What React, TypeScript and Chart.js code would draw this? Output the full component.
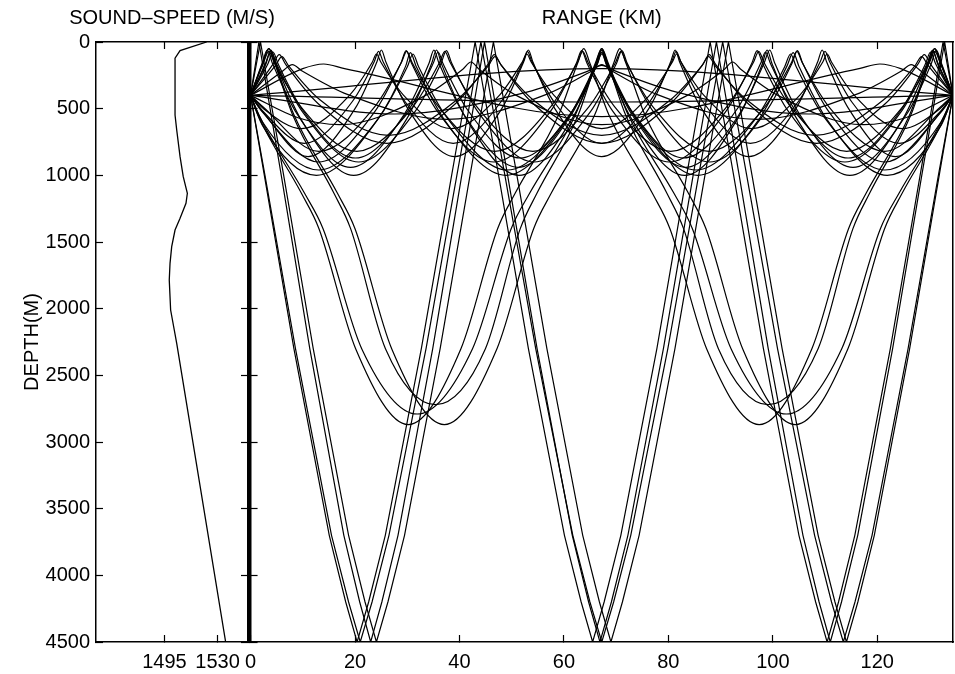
import React, { useEffect, useRef } from 'react';
import { Chart, registerables } from 'chart.js';

Chart.register(...registerables);

const FONT = "'Liberation Sans', Arial, Helvetica, sans-serif";

// ---- axis ticks ----
const depthTicks = [0, 500, 1000, 1500, 2000, 2500, 3000, 3500, 4000, 4500];
const speedTicks = [1495, 1530];
const rangeTicks = [0, 20, 40, 60, 80, 100, 120];

// ---- sound speed profile ----
const soundSpeed = [1522.8, 1505.3, 1502.0, 1502.0, 1503.1, 1505.3, 1507.4, 1510.1, 1509.2, 1505.3, 1502.0, 1499.8, 1498.7, 1498.2, 1499.1, 1501.5, 1503.1, 1535.3];
const soundDepth = [0, 65, 122, 548, 660, 860, 1010, 1135, 1210, 1322, 1410, 1535, 1660, 1785, 2010, 2160, 2260, 4500];

// ---- rays [range km, depth m] ----
// upper-duct rays
const rayA = [[0,400],[2.95,163],[3.9,60],[4.85,163],[9.6,577],[19.75,1000],[29.9,577],[34.65,163],[35.6,60],[36.55,163],[41.3,577],[51.4,1000],[61.55,577],[66.3,163],[67.25,60],[68.2,163],[72.95,577],[83.1,1000],[93.25,577],[98.0,163],[98.9,60],[99.85,163],[104.6,577],[114.75,1000],[124.9,577],[129.65,163],[130.6,60],[131.55,163],[134.5,400]];
const rayA2 = [[0,400],[2.24,157],[3.2,60],[4.16,157],[8.96,544],[19.15,940],[29.39,544],[34.19,157],[35.1,60],[36.06,157],[40.86,544],[51.2,940],[61.44,544],[66.24,157],[67.25,60],[68.21,157],[73.01,544],[83.3,940],[93.54,544],[98.34,157],[99.4,60],[100.36,157],[105.16,544],[115.35,940],[125.59,544],[130.39,157],[131.3,60],[132.26,157],[134.5,400]];
const rayA3 = [[0,400],[3.35,162],[4.3,75],[5.25,162],[10.0,512],[20.1,870],[30.2,512],[34.95,162],[35.9,75],[36.85,162],[41.6,512],[51.6,870],[61.7,512],[66.45,162],[67.25,75],[68.05,162],[72.9,512],[82.9,870],[93.0,512],[97.65,162],[98.6,75],[99.55,162],[104.3,512],[114.4,870],[124.5,512],[129.25,162],[130.2,75],[131.15,162],[134.5,400]];
const rayB = [[0,400],[2.5,525],[10.3,760],[19.42,450],[23.7,146],[24.5,70],[25.36,146],[29.63,450],[38.8,760],[47.92,450],[52.2,146],[53.0,70],[53.86,146],[58.13,450],[67.25,760],[76.37,450],[80.65,146],[81.5,70],[82.36,146],[86.63,450],[95.7,760],[104.82,450],[109.1,146],[110.0,70],[110.86,146],[115.13,450],[124.2,760],[132.0,525],[134.5,400]];
const rayB2 = [[0,400],[2.2,516],[11.0,860],[20.0,500],[24.2,148],[25.05,60],[25.89,148],[30.11,500],[39.1,860],[48.1,500],[52.3,148],[53.2,60],[54.04,148],[58.26,500],[67.25,860],[76.25,500],[80.45,148],[81.3,60],[82.14,148],[86.36,500],[95.4,860],[104.4,500],[108.6,148],[109.45,60],[110.29,148],[114.51,500],[123.5,860],[132.3,516],[134.5,400]];
const rayB3 = [[0,400],[2.5,500],[9.8,650],[18.98,398],[23.3,152],[24.1,90],[24.96,152],[29.27,398],[38.5,650],[47.68,398],[52.0,152],[52.9,90],[53.76,152],[58.07,398],[67.25,650],[76.43,398],[80.74,152],[81.6,90],[82.46,152],[86.77,398],[96.0,650],[105.18,398],[109.54,152],[110.4,90],[111.26,152],[115.57,398],[124.7,650],[132.0,500],[134.5,400]];
const rayC = [[0,400],[2.9,157],[3.9,65],[4.9,157],[9.95,524],[20.7,900],[31.45,524],[36.5,157],[37.5,65],[38.5,157],[43.55,524],[54.3,900],[65.05,524],[70.1,157],[71.1,65],[72.1,157],[77.15,524],[87.9,900],[98.65,524],[103.7,157],[104.7,65],[105.7,157],[110.75,524],[121.5,900],[132.25,524],[134.5,400]];
const rayCm = [[0,400],[2.25,524],[13.0,900],[23.75,524],[28.8,157],[29.8,65],[30.8,157],[35.85,524],[46.6,900],[57.35,524],[62.4,157],[63.4,65],[64.4,157],[69.45,524],[80.2,900],[90.95,524],[96.0,157],[97.0,65],[98.0,157],[103.05,524],[113.8,900],[124.55,524],[129.6,157],[130.6,65],[131.6,157],[134.5,400]];
const rayC2 = [[0,400],[2.5,152],[3.5,70],[4.5,152],[9.57,482],[20.35,820],[31.15,482],[36.2,152],[37.2,70],[38.2,152],[43.27,482],[54.05,820],[64.85,482],[69.9,152],[70.9,70],[71.9,152],[76.97,482],[87.75,820],[98.55,482],[103.6,152],[104.6,70],[105.6,152],[110.67,482],[121.45,820],[132.25,482],[134.5,400]];
const rayC2m = [[0,400],[2.25,482],[13.05,820],[23.83,482],[28.9,152],[29.9,70],[30.9,152],[35.95,482],[46.75,820],[57.53,482],[62.6,152],[63.6,70],[64.6,152],[69.65,482],[80.45,820],[91.23,482],[96.3,152],[97.3,70],[98.3,152],[103.35,482],[114.15,820],[124.93,482],[130.0,152],[131.0,70],[132.0,152],[134.5,400]];
const rayD = [[0,400],[4.78,175],[6.0,110],[7.22,175],[13.34,435],[26.4,700],[39.46,435],[45.58,175],[46.8,110],[48.02,175],[54.14,435],[67.25,700],[80.36,435],[86.48,175],[87.7,110],[88.92,175],[95.04,435],[108.1,700],[121.16,435],[127.28,175],[128.5,110],[129.72,175],[134.5,400]];
const rayD2 = [[0,400],[4.27,168],[5.5,95],[6.73,168],[12.91,461],[26.1,760],[39.27,461],[45.45,168],[46.67,95],[47.9,168],[54.08,461],[67.25,760],[80.42,461],[86.6,168],[87.83,95],[89.06,168],[95.24,461],[108.4,760],[121.57,461],[127.75,168],[129.0,95],[130.23,168],[134.5,400]];
const rayE = [[0,400],[2.3,600],[13.05,960],[24.6,568],[30.02,186],[31.1,90],[32.18,186],[37.6,568],[49.2,960],[60.75,568],[66.17,186],[67.25,90],[68.33,186],[73.75,568],[85.3,960],[96.85,568],[102.27,186],[103.4,90],[104.48,186],[109.9,568],[121.45,960],[132.2,600],[134.5,400]];
const rayE2 = [[0,400],[2.2,620],[12.6,1000],[24.25,586],[29.7,181],[30.6,80],[31.69,181],[37.15,586],[48.9,1000],[60.55,586],[66.0,181],[67.25,80],[68.5,181],[73.95,586],[85.6,1000],[97.25,586],[102.7,181],[103.9,80],[104.99,181],[110.45,586],[121.9,1000],[132.3,620],[134.5,400]];
const rayF = [[0,400],[9.07,568],[17.1,620],[33.16,408],[40.7,202],[42.2,150],[43.7,202],[51.24,408],[67.25,620],[83.26,408],[90.8,202],[92.3,150],[93.8,202],[101.34,408],[117.4,620],[125.43,568],[134.5,400]];
const rayG = [[0,400],[6.22,215],[8,170],[9.78,215],[18.66,395],[37.6,580],[56.54,395],[65.4,215],[67.25,170],[69.1,215],[77.91,395],[96.9,580],[115.84,395],[124.72,215],[126.5,170],[128.28,215],[134.5,400]];
const rayH1 = [[0,400],[67.25,450],[134.5,400]];
const rayH2 = [[0,400],[67.25,200],[134.5,400]];
const rayH3 = [[0,400],[27.6,540],[52.9,376],[64.8,215],[67.25,175],[69.7,215],[81.6,376],[106.9,540],[134.5,400]];
const rayH4 = [[0,400],[10,200],[14,165],[18,200],[67.25,560],[116.5,200],[120.5,165],[124.5,200],[134.5,400]];

// deep refracted rays
const rayR1 = [[0,400],[1.6,550],[10.34,1135],[13.88,1400],[21.28,2300],[31.9,2790],[42.5,2300],[49.9,1400],[53.43,1135],[62.16,550],[66.01,160],[67.25,50],[68.49,160],[72.34,550],[81.07,1135],[84.6,1400],[92.0,2300],[102.6,2790],[113.2,2300],[120.6,1400],[124.16,1135],[132.9,550],[134.5,400]];
const rayR2 = [[0,400],[2.32,160],[3.5,50],[4.68,160],[8.34,550],[16.64,1135],[20.0,1400],[27.02,2300],[37.1,2870],[47.18,2300],[54.2,1400],[57.56,1135],[65.86,550],[69.52,160],[70.7,50],[71.88,160],[75.54,550],[83.84,1135],[87.2,1400],[94.22,2300],[104.3,2870],[114.38,2300],[121.4,1400],[124.76,1135],[133.06,550],[134.5,400]];
const rayR2m = [[0,400],[1.44,550],[9.74,1135],[13.1,1400],[20.12,2300],[30.2,2870],[40.28,2300],[47.3,1400],[50.66,1135],[58.96,550],[62.62,160],[63.8,50],[64.98,160],[68.64,550],[76.94,1135],[80.3,1400],[87.32,2300],[97.4,2870],[107.48,2300],[114.5,1400],[117.86,1135],[126.16,550],[129.82,160],[131.0,50],[132.18,160],[134.5,400]];
const rayR3 = [[0,400],[2.38,160],[3.5,50],[4.62,160],[8.09,550],[15.97,1135],[19.16,1400],[25.83,2300],[35.4,2720],[44.97,2300],[51.64,1400],[54.83,1135],[62.71,550],[66.13,160],[67.25,50],[68.37,160],[71.84,550],[79.72,1135],[82.91,1400],[89.58,2300],[99.1,2720],[108.67,2300],[115.34,1400],[118.53,1135],[126.41,550],[129.88,160],[131.0,50],[132.12,160],[134.5,400]];

// steep surface/bottom reflected rays
const raySA = [[0,400],[2.64,1000],[8.3,2300],[15.07,3700],[18.22,4200],[20.4,4500],[22.61,4200],[25.8,3700],[32.7,2300],[38.5,1000],[43.0,0],[47.5,1000],[53.2,2300],[60.1,3700],[63.3,4200],[65.5,4500],[67.7,4200],[70.9,3700],[77.8,2300],[83.5,1000],[88.0,0],[92.5,1000],[98.2,2300],[105.0,3700],[108.2,4200],[110.4,4500],[112.58,4200],[115.7,3700],[122.5,2300],[128.2,1000],[132.6,0],[134.5,400]];
const raySB = [[0,400],[1.9,0],[6.34,1000],[12.0,2300],[18.77,3700],[21.92,4200],[24.1,4500],[26.3,4200],[29.48,3700],[36.3,2300],[42.02,1000],[46.5,0],[51.0,1000],[56.74,2300],[63.6,3700],[66.8,4200],[69.0,4500],[71.2,4200],[74.4,3700],[81.26,2300],[87.0,1000],[91.5,0],[96.02,1000],[101.78,2300],[108.68,3700],[111.9,4200],[114.1,4500],[116.28,4200],[119.43,3700],[126.2,2300],[131.86,1000],[134.5,400]];
const raySC = [[0,400],[2.76,1000],[8.6,2300],[15.5,3700],[18.77,4200],[21.0,4500],[23.26,4200],[26.5,3700],[33.6,2300],[39.5,1000],[44.1,0],[48.7,1000],[54.6,2300],[61.7,3700],[64.98,4200],[67.25,4500],[69.52,4200],[72.8,3700],[79.9,2300],[85.8,1000],[90.4,0],[95.0,1000],[100.9,2300],[108.0,3700],[111.24,4200],[113.5,4500],[115.73,4200],[119.0,3700],[125.9,2300],[131.7,1000],[134.5,400]];
const raySD = [[0,400],[1.6,0],[5.88,1000],[11.34,2300],[17.86,3700],[20.9,4200],[23.0,4500],[25.14,4200],[28.23,3700],[34.88,2300],[40.44,1000],[44.8,0],[49.22,1000],[54.86,2300],[61.6,3700],[64.73,4200],[66.9,4500],[69.09,4200],[72.25,3700],[79.05,2300],[84.74,1000],[89.2,0],[93.56,1000],[99.12,2300],[105.77,3700],[108.86,4200],[111.0,4500],[113.15,4200],[116.26,3700],[122.94,2300],[128.52,1000],[132.9,0],[134.5,400]];

const upperRays = [rayA, rayA2, rayA3, rayB, rayB2, rayB3, rayC, rayCm, rayC2, rayC2m, rayD, rayD2, rayE, rayE2, rayF, rayG, rayH1, rayH2, rayH3, rayH4];
const deepRays = [rayR1, rayR2, rayR2m, rayR3];
const steepRays = [raySA, raySB, raySC, raySD];

const toPts = (r: number[][]) => r.map(([x, y]) => ({ x, y }));

const tickGrid = {
  display: true,
  drawOnChartArea: false,
  drawTicks: true,
  tickLength: -7,
  tickWidth: 1.2,
  tickColor: '#000',
  color: '#000',
};
const frame = (w: number) => ({ display: true, color: '#000', width: w });
const labelFont = { family: FONT, size: 20, weight: 'normal' as const };
const setTicks = (vals: number[]) => (s: any) => {
  s.ticks = vals.map((v) => ({ value: v }));
};
const titleOpts = (text: string, fullSize: boolean) => ({
  display: true,
  text,
  color: '#000',
  font: labelFont,
  padding: { top: 6, bottom: 0 },
  fullSize,
});

const LEFT_W = 344; // chart area 96..248, title centred at 172
const LEFT_AREA_RIGHT = 248;
const RIGHT_X = 230;
const RIGHT_W = 725;
const RIGHT_AREA_LEFT = 247;

function leftConfig(): any {
  return {
    type: 'line',
    data: {
      datasets: [
        {
          data: soundSpeed.map((v, i) => ({ x: v, y: soundDepth[i] })),
          borderColor: '#000',
          borderWidth: 1.3,
          pointRadius: 0,
          tension: 0,
          fill: false,
        },
      ],
    },
    options: {
      animation: false,
      responsive: false,
      devicePixelRatio: 1,
      layout: { padding: 0 },
      plugins: {
        legend: { display: false },
        tooltip: { enabled: false },
        title: titleOpts('SOUND\u2013SPEED (M/S)', true),
      },
      scales: {
        x: {
          type: 'linear', position: 'bottom', min: 1450, max: 1550,
          afterBuildTicks: setTicks(speedTicks),
          ticks: { color: '#000', font: labelFont, padding: 15, autoSkip: false, maxRotation: 0, callback: (v: any) => String(v) },
          grid: tickGrid, border: frame(1.5),
          afterFit: (s: any) => { s.height = 32; },
        },
        x2: {
          type: 'linear', position: 'top', min: 1450, max: 1550,
          afterBuildTicks: setTicks(speedTicks),
          ticks: { display: false },
          grid: tickGrid, border: frame(1.5),
          afterFit: (s: any) => { s.height = 12; },
        },
        y: {
          type: 'linear', position: 'left', reverse: true, min: 0, max: 4500,
          afterBuildTicks: setTicks(depthTicks),
          ticks: { color: '#000', font: labelFont, padding: 13, autoSkip: false, callback: (v: any) => String(v) },
          title: { display: true, text: 'DEPTH(M)', color: '#000', font: labelFont, padding: { top: 20, bottom: 0 } },
          grid: tickGrid, border: frame(1.5),
          afterFit: (s: any) => { s.width = 96; },
        },
        y2: {
          type: 'linear', position: 'right', reverse: true, min: 0, max: 4500,
          afterBuildTicks: setTicks(depthTicks),
          ticks: { display: false },
          grid: tickGrid, border: frame(2.5),
          afterFit: (s: any) => { s.width = LEFT_W - LEFT_AREA_RIGHT; },
        },
      },
    },
  };
}

function rightConfig(): any {
  const common = { borderColor: '#000', borderWidth: 1.2, pointRadius: 0, pointHoverRadius: 0, fill: false };
  return {
    type: 'line',
    data: {
      datasets: [
        ...upperRays.map((r) => ({ ...common, data: toPts(r), cubicInterpolationMode: 'monotone' })),
        ...deepRays.map((r) => ({ ...common, data: toPts(r), cubicInterpolationMode: 'monotone' })),
        ...steepRays.map((r) => ({ ...common, data: toPts(r), tension: 0 })),
      ],
    },
    options: {
      animation: false,
      responsive: false,
      devicePixelRatio: 1,
      layout: { padding: { left: 0, right: 2, top: 0, bottom: 0 } },
      plugins: {
        legend: { display: false },
        tooltip: { enabled: false },
        title: titleOpts('RANGE (KM)', false),
      },
      scales: {
        x: {
          type: 'linear', position: 'bottom', min: 0, max: 134.5,
          afterBuildTicks: setTicks(rangeTicks),
          ticks: { color: '#000', font: labelFont, padding: 15, autoSkip: false, maxRotation: 0, callback: (v: any) => String(v) },
          grid: tickGrid, border: frame(1.5),
          afterFit: (s: any) => { s.height = 32; },
        },
        x2: {
          type: 'linear', position: 'top', min: 0, max: 134.5,
          afterBuildTicks: setTicks(rangeTicks),
          ticks: { display: false },
          grid: tickGrid, border: frame(1.5),
          afterFit: (s: any) => { s.height = 12; },
        },
        y: {
          type: 'linear', position: 'left', reverse: true, min: 0, max: 4500,
          afterBuildTicks: setTicks(depthTicks),
          ticks: { display: false },
          grid: tickGrid, border: frame(2.5),
          afterFit: (s: any) => { s.width = RIGHT_AREA_LEFT - RIGHT_X; },
        },
        y2: {
          type: 'linear', position: 'right', reverse: true, min: 0, max: 4500,
          afterBuildTicks: setTicks(depthTicks),
          ticks: { display: false },
          grid: { display: false },
          border: frame(1.5),
          afterFit: (s: any) => { s.width = 0; },
        },
      },
    },
  };
}

export default function App() {
  const leftRef = useRef<HTMLCanvasElement>(null);
  const rightRef = useRef<HTMLCanvasElement>(null);
  useEffect(() => {
    const left = new Chart(leftRef.current as HTMLCanvasElement, leftConfig());
    const right = new Chart(rightRef.current as HTMLCanvasElement, rightConfig());
    return () => {
      left.destroy();
      right.destroy();
    };
  }, []);
  return (
    <div style={{ position: 'absolute', left: 0, top: 0, width: 955, height: 674, background: '#fff' }}>
      <canvas ref={leftRef} width={LEFT_W} height={674} style={{ position: 'absolute', left: 0, top: 0, width: LEFT_W, height: 674 }} />
      <canvas ref={rightRef} width={RIGHT_W} height={674} style={{ position: 'absolute', left: RIGHT_X, top: 0, width: RIGHT_W, height: 674 }} />
    </div>
  );
}
